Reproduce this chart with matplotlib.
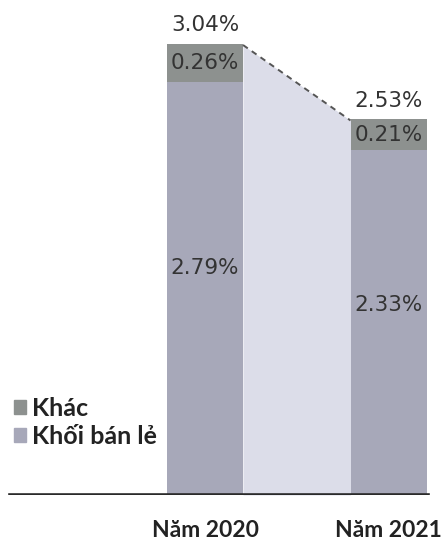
import matplotlib
matplotlib.use("Agg")
import matplotlib.pyplot as plt
from matplotlib.patches import Patch

categories = ["Năm 2020", "Năm 2021"]
retail = [2.79, 2.33]
other = [0.26, 0.21]
totals = [3.04, 2.53]
retail_labels = ["2.79%", "2.33%"]
other_labels = ["0.26%", "0.21%"]
total_labels = ["3.04%", "2.53%"]

c_retail = "#a7a8b9"
c_other = "#8d918f"
c_fill = "#dcdde9"
c_text = "#333333"

plt.rcParams['font.family'] = ['DejaVu Sans']

fig = plt.figure(figsize=(4.48, 5.42), dpi=100)
ax = fig.add_axes([0, 47/542, 1, 495/542])
x = [0, 1]
w = 0.414
ax.set_xlim(-1.117, 1.324)
ax.set_ylim(0, 3.344)
ax.axis('off')

# connecting area
xs = [x[0] + w/2, x[1] - w/2]
ax.fill_between(xs, [totals[0], totals[1]], 0, color=c_fill, lw=0)
ax.plot(xs, [totals[0], totals[1]], ls=(0, (3, 2.5)), color="#555555", lw=1.4)

ax.bar(x, retail, width=w, color=c_retail, lw=0)
ax.bar(x, other, width=w, bottom=retail, color=c_other, lw=0)

for i in range(2):
    ax.text(x[i], retail[i]*0.55, retail_labels[i], ha='center', va='center',
            fontsize=15.5, color=c_text)
    ax.text(x[i], retail[i] + other[i]/2, other_labels[i], ha='center', va='center',
            fontsize=15.5, color=c_text)
    ax.annotate(total_labels[i], (x[i], totals[i]), xytext=(0, 7), textcoords='offset points',
                ha='center', va='bottom', fontsize=15.5, color=c_text)
    ax.annotate(categories[i], (x[i], 0), xytext=(0, -30), textcoords='offset points',
                ha='center', va='baseline', fontsize=16.5, color="#222222",
                family=['Lato', 'DejaVu Sans'], fontweight='bold')

ax.axhline(0, xmin=10/448, xmax=428/448, color="#2a2a2a", lw=2.6)

handles = [Patch(color=c_other, label="Khác"), Patch(color=c_retail, label="Khối bán lẻ")]
leg = ax.legend(handles=handles, loc='upper left', bbox_to_anchor=(0.008, 0.218),
                frameon=False, prop={'family': ['Lato', 'DejaVu Sans'], 'size': 18, 'weight': 'bold'},
                handlelength=0.5, handleheight=0.5,
                handletextpad=0.25, labelspacing=0.2, borderaxespad=0)
for t in leg.get_texts():
    t.set_color("#222222")

fig.savefig("out.png", dpi=100)
